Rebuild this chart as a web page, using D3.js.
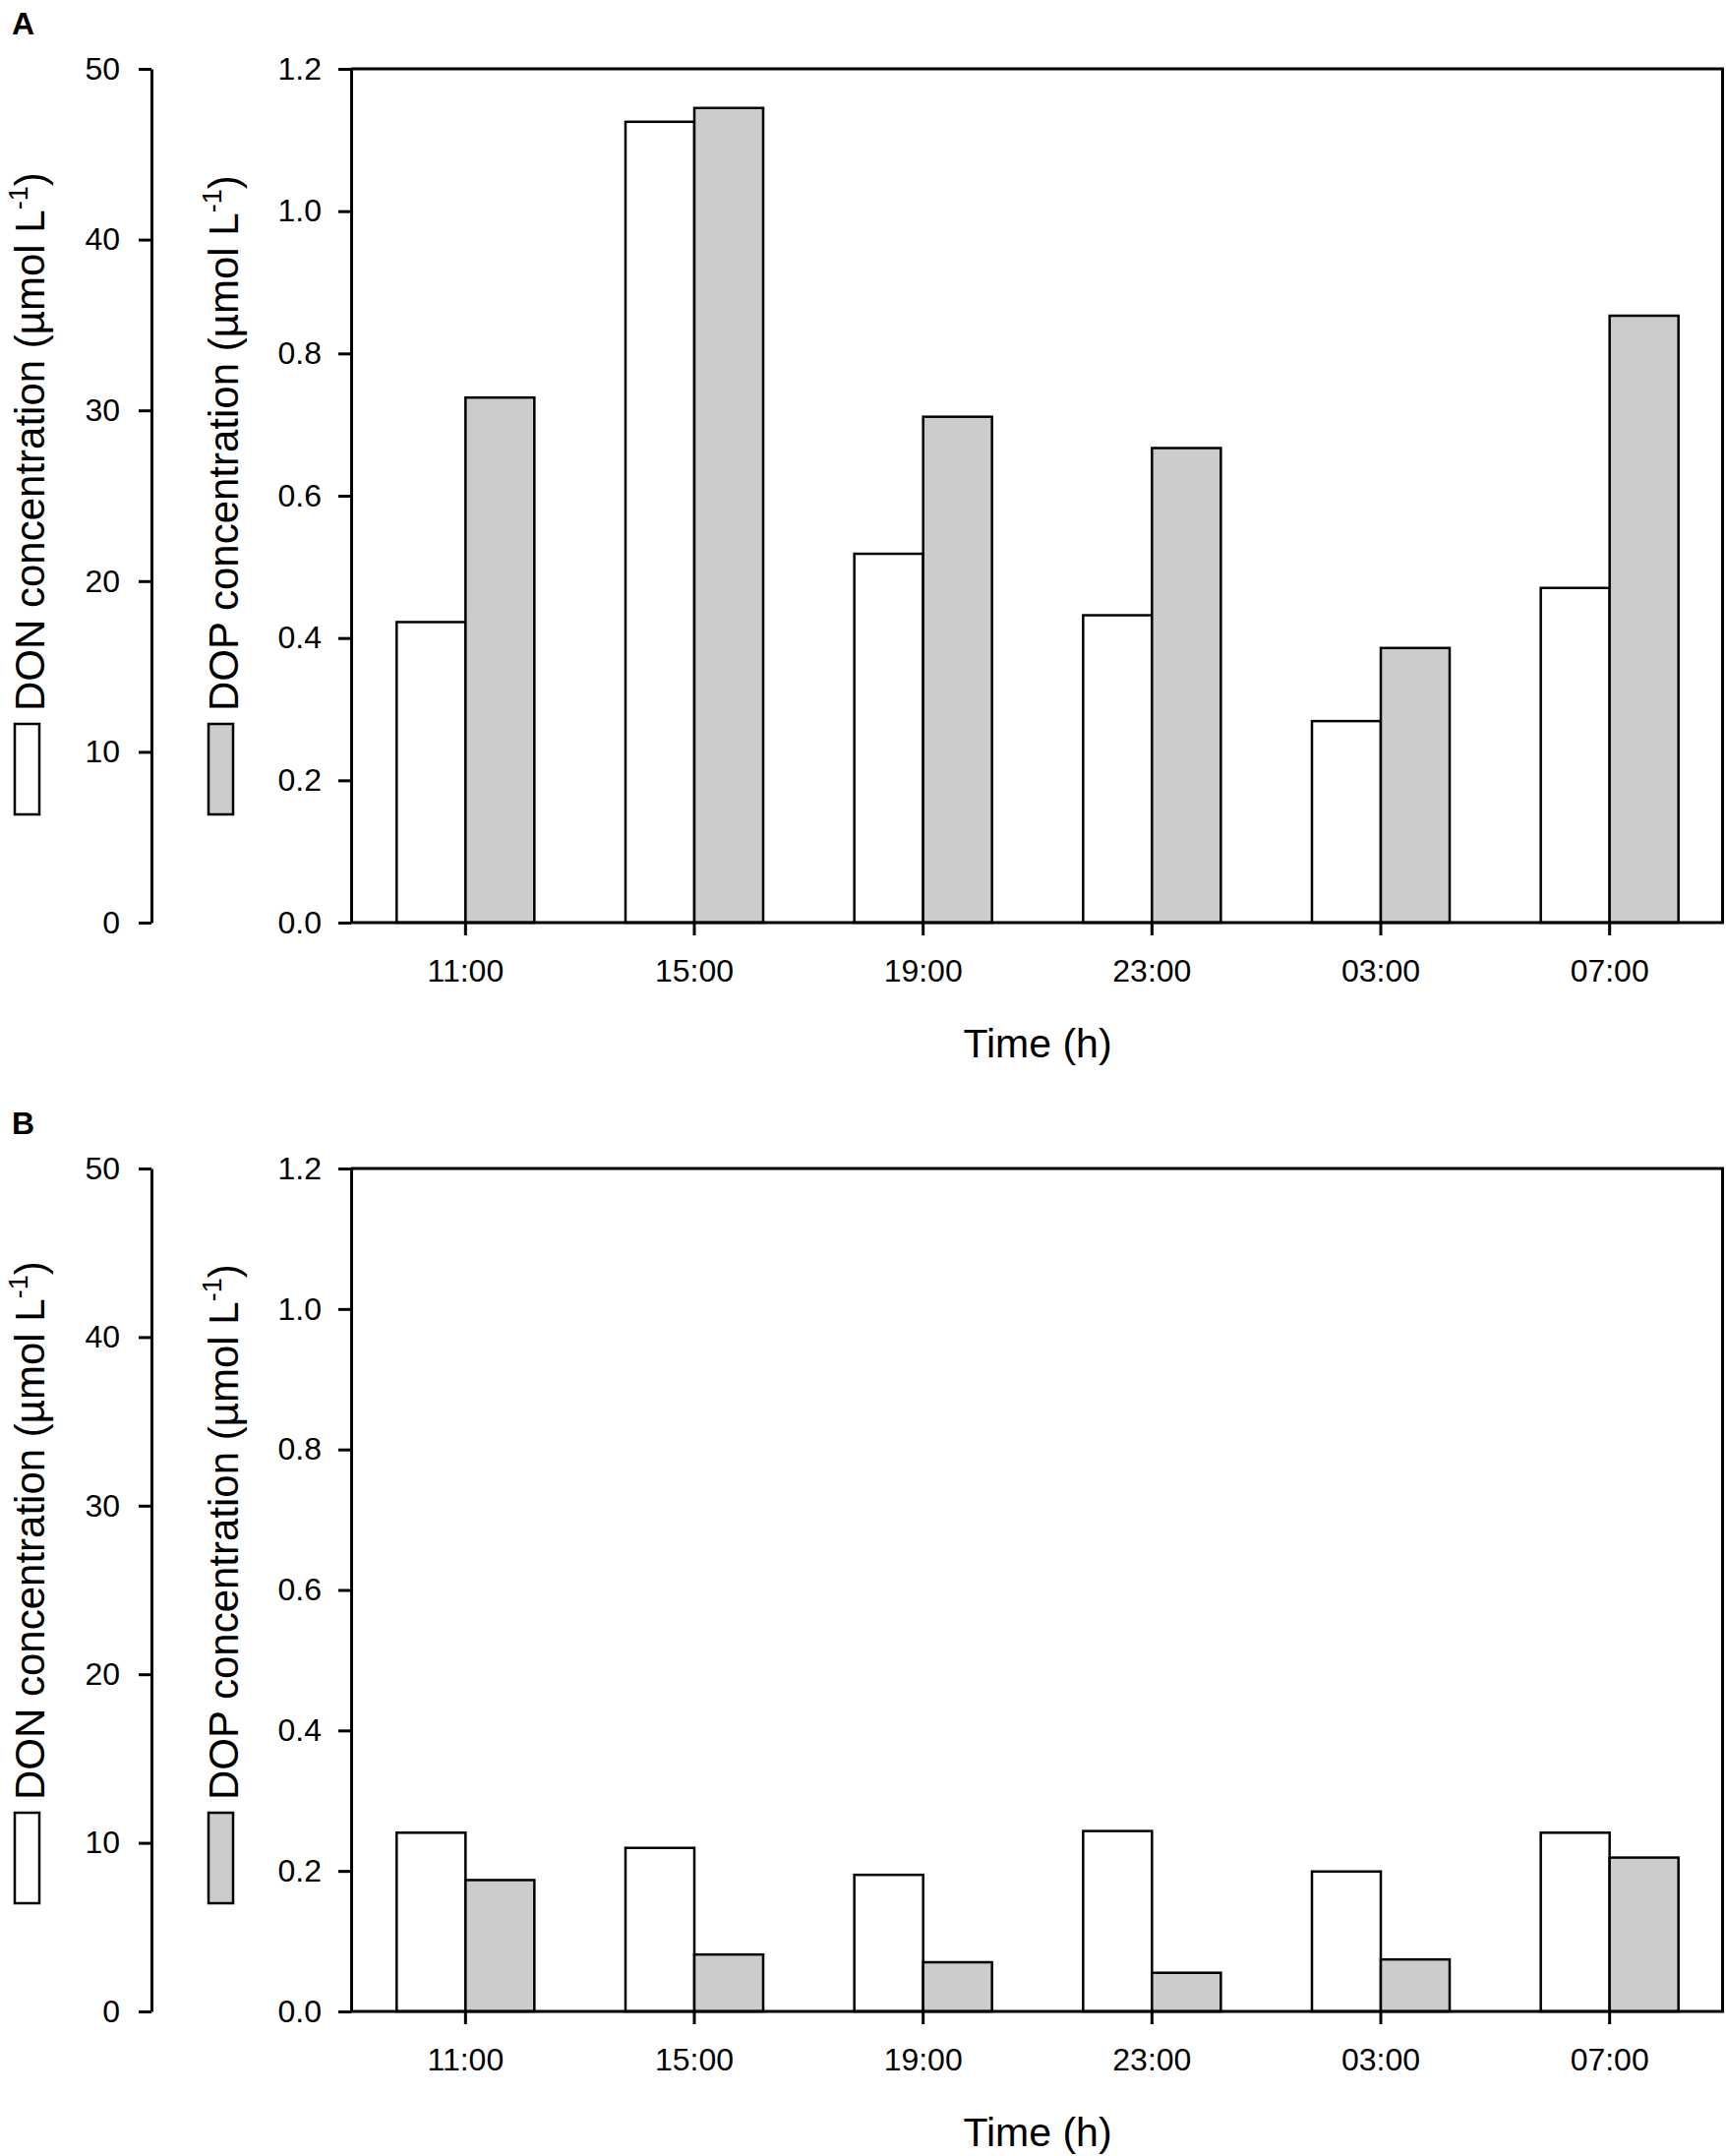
<!DOCTYPE html>
<html>
  <head>
    <meta charset="utf-8"/>
    <style>
body {
  margin: 0;
  background: #fff;
}
svg {
  display: block;
  font-family: "Liberation Sans", Arial, sans-serif;
}
    </style>
  </head>
  <body>
    <svg id="chart" width="1755" height="2192"></svg>
    <script src="https://cdnjs.cloudflare.com/ajax/libs/d3/7.8.5/d3.min.js"></script>
    <script>
const times = ["11:00", "15:00", "19:00", "23:00", "03:00", "07:00"];
const donTicks = [0, 10, 20, 30, 40, 50];
const dopTicks = [0, 0.2, 0.4, 0.6, 0.8, 1.0, 1.2];

// panel A
const donA = [17.6, 46.9, 21.6, 18.0, 11.8, 19.6];
const dopA = [0.738, 1.145, 0.711, 0.667, 0.386, 0.853];
// panel B
const donB = [10.6, 9.7, 8.1, 10.7, 8.3, 10.6];
const dopB = [0.187, 0.081, 0.070, 0.055, 0.074, 0.219];

const panels = [
  { letter: "A", top: 70, bottom: 938, don: donA, dop: dopA },
  { letter: "B", top: 1188, bottom: 2045, don: donB, dop: dopB }
];

const svg = d3.select("#chart");
const donX = 154, plotL = 357, plotR = 1753;
const barW = 70;

const x = d3.scaleBand()
    .domain(times)
    .range([plotL, plotR])
    .padding(0);

function yTitle(g, tx, ty, name) {
  let t = g.append("text")
      .attr("transform", `translate(${tx},${ty}) rotate(-90)`)
      .attr("font-size", 42)
      .attr("fill", "#000");
  t.append("tspan").text(name + " concentration (µmol L");
  t.append("tspan").attr("font-size", 27).attr("dy", -17).text("-1");
  t.append("tspan").attr("dy", 17).text(")");
}

panels.forEach((p) => {
  const g = svg.append("g");

  const yDon = d3.scaleLinear().domain([0, 50]).range([p.bottom, p.top]);
  const yDop = d3.scaleLinear().domain([0, 1.2]).range([p.bottom, p.top]);

  g.append("text")
      .attr("x", 12)
      .attr("y", p.top - 35)
      .attr("font-size", 32)
      .attr("font-weight", "bold")
      .text(p.letter);

  // DON axis (separate, left)
  const donAxis = g.append("g")
      .attr("transform", `translate(${donX},0)`)
      .call(d3.axisLeft(yDon).tickValues(donTicks).tickSize(13).tickPadding(19).tickSizeOuter(0));

  // DOP axis on plot frame
  const dopAxis = g.append("g")
      .attr("transform", `translate(${plotL},0)`)
      .call(d3.axisLeft(yDop).tickValues(dopTicks).tickFormat(d3.format(".1f")).tickSize(13).tickPadding(17).tickSizeOuter(0));

  const xAxis = g.append("g")
      .attr("transform", `translate(0,${p.bottom})`)
      .call(d3.axisBottom(x).tickSize(13).tickPadding(24).tickSizeOuter(0));

  [donAxis, dopAxis, xAxis].forEach((a) => {
    a.selectAll("path, line").attr("stroke", "#000").attr("stroke-width", 3);
    a.selectAll("text").attr("font-size", 32).attr("fill", "#000").attr("font-family", null);
  });
  xAxis.select(".domain").remove();

  // bars
  g.append("g")
    .selectAll("rect")
    .data(p.don)
    .join("rect")
      .attr("x", (d, i) => x(times[i]) + x.bandwidth() / 2 - barW)
      .attr("y", d => yDon(d))
      .attr("width", barW)
      .attr("height", d => p.bottom - yDon(d))
      .attr("fill", "#fff")
      .attr("stroke", "#000")
      .attr("stroke-width", 2.5);

  g.append("g")
    .selectAll("rect")
    .data(p.dop)
    .join("rect")
      .attr("x", (d, i) => x(times[i]) + x.bandwidth() / 2)
      .attr("y", d => yDop(d))
      .attr("width", barW)
      .attr("height", d => p.bottom - yDop(d))
      .attr("fill", "#cccccc")
      .attr("stroke", "#000")
      .attr("stroke-width", 2.5);

  // frame: top, right, bottom
  g.append("path")
      .attr("d", `M${plotL},${p.top}H${plotR - 1.5}V${p.bottom}H${plotL}`)
      .attr("fill", "none")
      .attr("stroke", "#000")
      .attr("stroke-width", 3);

  // axis titles with legend boxes
  const boxTop = p.bottom - 202;
  g.append("rect")
      .attr("x", 15).attr("y", boxTop)
      .attr("width", 25).attr("height", 92)
      .attr("fill", "#fff").attr("stroke", "#000").attr("stroke-width", 2.5);
  g.append("rect")
      .attr("x", 212).attr("y", boxTop)
      .attr("width", 25).attr("height", 92)
      .attr("fill", "#cccccc").attr("stroke", "#000").attr("stroke-width", 2.5);
  yTitle(g, 45, boxTop - 13, "DON");
  yTitle(g, 242, boxTop - 13, "DOP");

  g.append("text")
      .attr("x", (plotL + plotR) / 2)
      .attr("y", p.bottom + 137)
      .attr("text-anchor", "middle")
      .attr("font-size", 41)
      .text("Time (h)");
});
    </script>
  </body>
</html>
